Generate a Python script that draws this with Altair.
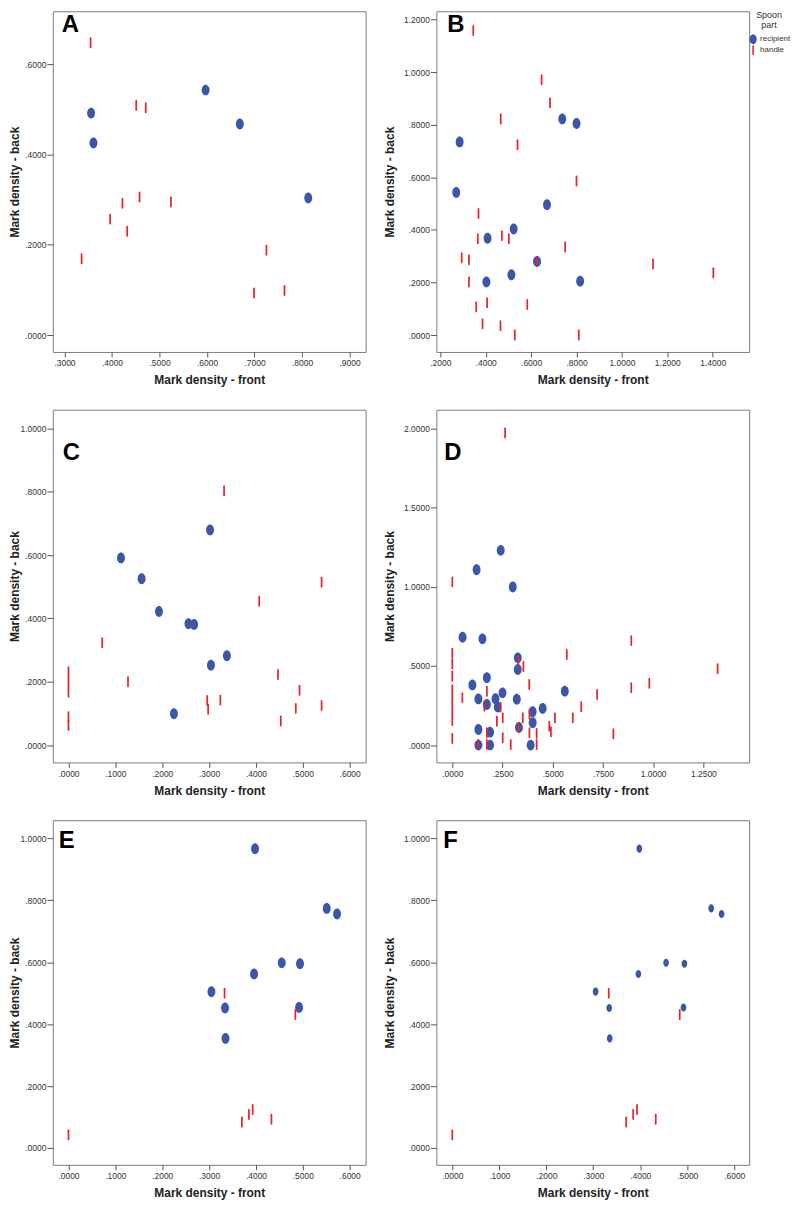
import altair as alt
import pandas as pd

# ---------------- data ----------------
A_rec_x = [0.356, 0.361, 0.597, 0.669, 0.813]
A_rec_y = [0.492, 0.426, 0.543, 0.468, 0.304]
A_han_x = [0.355, 0.451, 0.471, 0.458, 0.422, 0.524, 0.396, 0.432, 0.336, 0.725, 0.699, 0.763]
A_han_y = [0.648, 0.509, 0.504, 0.306, 0.292, 0.295, 0.257, 0.230, 0.169, 0.188, 0.093, 0.099]

B_rec_x = [0.285, 0.270, 0.737, 0.800, 0.670, 0.523, 0.408, 0.626, 0.513, 0.403, 0.816]
B_rec_y = [0.734, 0.542, 0.822, 0.805, 0.496, 0.403, 0.368, 0.280, 0.229, 0.202, 0.205]
B_han_x = [0.345, 0.646, 0.683, 0.466, 0.540, 0.800, 0.368, 0.365, 0.471, 0.502, 0.750, 0.294,
           0.326, 0.626, 1.137, 1.403, 0.326, 0.358, 0.406, 0.583, 0.386, 0.465, 0.528, 0.810]
B_han_y = [1.158, 0.971, 0.883, 0.822, 0.724, 0.586, 0.462, 0.366, 0.378, 0.366, 0.335, 0.294,
           0.286, 0.280, 0.270, 0.236, 0.202, 0.107, 0.123, 0.116, 0.043, 0.035, 0.000, 0.000]

C_rec_x = [0.112, 0.156, 0.193, 0.256, 0.268, 0.302, 0.304, 0.338, 0.225]
C_rec_y = [0.591, 0.525, 0.422, 0.383, 0.381, 0.679, 0.252, 0.282, 0.099]
C_han_x = [0.332, 0.072, 0.127, 0.0, 0.0, 0.0, 0.0, 0.0, 0.407, 0.540, 0.447, 0.493, 0.485,
           0.540, 0.453, 0.296, 0.298, 0.324]
C_han_y = [0.803, 0.323, 0.200, 0.232, 0.200, 0.167, 0.090, 0.062, 0.454, 0.514, 0.223, 0.173,
           0.116, 0.125, 0.076, 0.141, 0.113, 0.142]

D_rec_x = [0.241, 0.121, 0.301, 0.051, 0.150, 0.326, 0.326, 0.100, 0.172, 0.130, 0.172, 0.215,
           0.226, 0.250, 0.321, 0.560, 0.450, 0.400, 0.400, 0.332, 0.130, 0.188, 0.130, 0.188, 0.390]
D_rec_y = [1.230, 1.108, 0.999, 0.681, 0.671, 0.551, 0.477, 0.380, 0.425, 0.292, 0.257, 0.293,
           0.240, 0.330, 0.290, 0.341, 0.231, 0.211, 0.141, 0.112, 0.099, 0.082, 0.000, 0.000, 0.000]
D_han_x = [0.263, 0.0, 0.891, 0.570, 1.321, 0.981, 0.891, 0.721, 0.642, 0.600, 0.802, 0.511,
           0.483, 0.491, 0.0, 0.0, 0.0, 0.0, 0.0, 0.0, 0.0, 0.0, 0.050, 0.172, 0.160, 0.240,
           0.251, 0.222, 0.329, 0.354, 0.383, 0.351, 0.384, 0.331, 0.384, 0.420, 0.420, 0.172,
           0.172, 0.128, 0.251, 0.291]
D_han_y = [1.971, 1.031, 0.660, 0.572, 0.482, 0.391, 0.362, 0.320, 0.242, 0.172, 0.072, 0.172,
           0.120, 0.084, 0.580, 0.512, 0.435, 0.348, 0.284, 0.219, 0.155, 0.042, 0.300, 0.340,
           0.245, 0.240, 0.172, 0.151, 0.530, 0.496, 0.383, 0.173, 0.194, 0.109, 0.078, 0.074,
           0.004, 0.078, 0.004, 0.004, 0.046, 0.004]

E_rec_x = [0.398, 0.551, 0.573, 0.455, 0.494, 0.396, 0.305, 0.334, 0.492, 0.335]
E_rec_y = [0.967, 0.774, 0.756, 0.598, 0.595, 0.562, 0.505, 0.452, 0.454, 0.354]
E_han_x = [0.333, 0.484, 0.393, 0.385, 0.370, 0.433, 0.0]
E_han_y = [0.500, 0.431, 0.124, 0.108, 0.084, 0.093, 0.042]

PARTS = ["recipient", "handle"]
LETTERS = ["A", "B", "C", "D", "E", "F"]
X_TITLE = "Mark density - front"
Y_TITLE = "Mark density - back"

# ---------------- styling ----------------
BLUE = "#3C56A9"
RED = "#E4262D"
FONT = "Liberation Sans"


def ellipse_path(a, b):
    k = 0.5523
    return (f"M0,{-b}C{k*a:.3f},{-b} {a},{-k*b:.3f} {a},0"
            f"C{a},{k*b:.3f} {k*a:.3f},{b} 0,{b}"
            f"C{-k*a:.3f},{b} {-a},{k*b:.3f} {-a},0"
            f"C{-a},{-k*b:.3f} {-k*a:.3f},{-b} 0,{-b}Z")


ELL_BIG = ellipse_path(0.72, 1.0)
ELL_SMALL = ellipse_path(0.52, 0.74)
BAR = "M-0.16,-0.86Q-0.16,-1 0,-1Q0.16,-1 0.16,-0.86L0.16,0.86Q0.16,1 0,1Q-0.16,1 -0.16,0.86Z"

LBL = ("datum.value < 1 ? substring(format(datum.value, '.4f'), 1)"
       " : format(datum.value, '.4f')")


def panel(rx, ry, hx, hy, xdom, ydom, xticks, yticks, letter, lpos, w, h, ytx,
          ell, legend=False):
    df = pd.DataFrame({
        "front": list(rx) + list(hx),
        "back": list(ry) + list(hy),
        "part": [PARTS[0]] * len(rx) + [PARTS[1]] * len(hx),
    })
    if legend:
        leg = alt.Legend(title=["Spoon", "part"], orient="none", legendX=313, legendY=0)
    else:
        leg = None
    pts = alt.Chart(df).mark_point(filled=True, opacity=1, strokeWidth=0, size=121).encode(
        x=alt.X("front:Q",
                scale=alt.Scale(domain=xdom, nice=False, zero=False),
                axis=alt.Axis(values=xticks, labelExpr=LBL, title=X_TITLE,
                              titleY=32, titleBaseline="alphabetic",
                              tickSize=5, labelPadding=2)),
        y=alt.Y("back:Q",
                scale=alt.Scale(domain=ydom, nice=False, zero=False),
                axis=alt.Axis(values=yticks, labelExpr=LBL, title=Y_TITLE,
                              titleX=ytx, titleY=h / 2, titleBaseline="alphabetic",
                              tickSize=6, labelPadding=1)),
        color=alt.Color("part:N", scale=alt.Scale(domain=PARTS, range=[BLUE, RED]), legend=leg),
        shape=alt.Shape("part:N", scale=alt.Scale(domain=PARTS, range=[ell, BAR]), legend=leg),
    )
    txt = alt.Chart(pd.DataFrame({"t": [letter]})).mark_text(
        align="left", baseline="alphabetic", fontSize=24, fontWeight="bold",
        font=FONT, color="black").encode(
        x=alt.value(lpos[0]), y=alt.value(lpos[1]), text="t:N")
    return alt.layer(pts, txt).properties(width=w, height=h)


W = 314
H1, H2, H3 = 342, 354, 346
pA = panel(A_rec_x, A_rec_y, A_han_x, A_han_y, [0.2755, 0.9338], [-0.0375, 0.7178],
           [0.3, 0.4, 0.5, 0.6, 0.7, 0.8, 0.9], [0.0, 0.2, 0.4, 0.6],
           LETTERS[0], (9, 21), W, H1, -34, ELL_BIG)
pB = panel(B_rec_x, B_rec_y, B_han_x, B_han_y, [0.1824, 1.5608], [-0.0644, 1.2315],
           [0.2, 0.4, 0.6, 0.8, 1.0, 1.2, 1.4], [0.0, 0.2, 0.4, 0.6, 0.8, 1.0, 1.2],
           LETTERS[1], (11, 21), W, H1, -43, ELL_BIG, legend=True)
pC = panel(C_rec_x, C_rec_y, C_han_x, C_han_y, [-0.0334, 0.634], [-0.0546, 1.059],
           [0.0, 0.1, 0.2, 0.3, 0.4, 0.5, 0.6], [0.0, 0.2, 0.4, 0.6, 0.8, 1.0],
           LETTERS[2], (10, 50), W, H2, -34, ELL_BIG)
pD = panel(D_rec_x, D_rec_y, D_han_x, D_han_y, [-0.0794, 1.4781], [-0.1091, 2.118],
           [0.0, 0.25, 0.5, 0.75, 1.0, 1.25], [0.0, 0.5, 1.0, 1.5, 2.0],
           LETTERS[3], (8, 50), W, H2, -43, ELL_BIG)
pE = panel(E_rec_x, E_rec_y, E_han_x, E_han_y, [-0.0334, 0.634], [-0.0546, 1.059],
           [0.0, 0.1, 0.2, 0.3, 0.4, 0.5, 0.6], [0.0, 0.2, 0.4, 0.6, 0.8, 1.0],
           LETTERS[4], (6, 28), W, H3, -34, ELL_BIG)
pF = panel(E_rec_x, E_rec_y, E_han_x, E_han_y, [-0.0339, 0.6318], [-0.0546, 1.059],
           [0.0, 0.1, 0.2, 0.3, 0.4, 0.5, 0.6], [0.0, 0.2, 0.4, 0.6, 0.8, 1.0],
           LETTERS[5], (7, 28), W, H3, -43, ELL_SMALL)

chart = alt.concat(
    pA, pB, pC, pD, pE, pF, columns=2, bounds="flush",
    spacing=alt.RowColnumber(row=58, column=71)
).resolve_scale(
    color="independent", shape="independent", x="independent", y="independent"
).properties(padding=0).configure_view(
    stroke="#7c7c7c", strokeWidth=1
).configure_axis(
    labelFont=FONT, labelFontSize=8.5, labelColor="#333333",
    titleFont=FONT, titleFontSize=12, titleFontWeight="bold", titleColor="#222222",
    tickColor="#555555", domain=False, grid=False
).configure_legend(
    labelFont=FONT, labelFontSize=8, labelColor="#333333", labelOffset=2,
    titleFont=FONT, titleFontSize=9, titleFontWeight="normal", titleColor="#333333",
    titleAlign="center", titleAnchor="middle", titleLineHeight=10, titlePadding=4,
    symbolSize=100, rowPadding=1, padding=0, symbolStrokeWidth=0, symbolOpacity=1
)

chart.save("out.html", embed_options={"renderer": "svg", "actions": False})
